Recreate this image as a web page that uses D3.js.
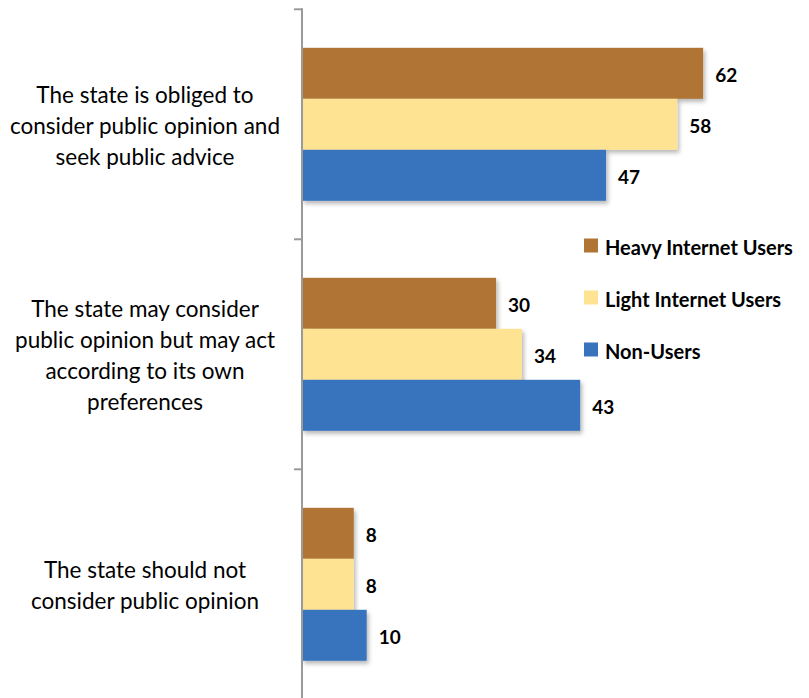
<!DOCTYPE html>
<html>
<head>
<meta charset="utf-8">
<script src="https://cdn.jsdelivr.net/npm/d3@7"></script>
<style>
  html, body { margin: 0; padding: 0; background: #fff; }
  svg { display: block; }
</style>
</head>
<body>
<div id="chart"></div>
<script>
// Attitudes toward the state and public opinion, by internet use (%)
const categories = [
  "The state is obliged to|consider public opinion and|seek public advice",
  "The state may consider|public opinion but may act|according to its own|preferences",
  "The state should not|consider public opinion"
];
const seriesNames = ["Heavy Internet Users", "Light Internet Users", "Non-Users"];
const heavyUsers = [62, 30, 8];
const lightUsers = [58, 34, 8];
const nonUsers = [47, 43, 10];
const seriesValues = [heavyUsers, lightUsers, nonUsers];
const seriesColors = ["#B07534", "#FEE492", "#3873BE"];

const W = 809, H = 698;
const axisX = 302;
const FONT = "Lato, 'Open Sans', sans-serif";

const svg = d3.select("#chart").append("svg")
  .attr("width", W).attr("height", H);

// soft drop shadow under each bar
const defs = svg.append("defs");
const f = defs.append("filter").attr("id", "shadow")
  .attr("x", "-5%").attr("y", "-10%").attr("width", "115%").attr("height", "140%");
f.append("feDropShadow").attr("dx", 2).attr("dy", 3)
  .attr("stdDeviation", 2).attr("flood-color", "#000").attr("flood-opacity", 0.28);

const x = d3.scaleLinear().domain([0, 70]).range([axisX, axisX + 70 * 6.47]);

const y = d3.scaleBand().domain(d3.range(categories.length))
  .range([9.3, 9.3 + 3 * 230]);

// three bars fill ~153px of each 230px band
const inner = d3.scaleBand().domain(d3.range(seriesNames.length))
  .range([0, y.bandwidth()]).paddingInner(0)
  .paddingOuter((y.bandwidth() - 153) / 2 / (153 / 3));

const rows = [];
categories.forEach((c, i) => {
  seriesValues.forEach((vals, s) => rows.push({ cat: i, s, v: vals[i] }));
});

// bars
svg.append("g").selectAll("rect").data(rows).join("rect")
  .attr("x", x(0))
  .attr("y", d => y(d.cat) + inner(d.s))
  .attr("width", d => x(d.v) - x(0))
  .attr("height", inner.bandwidth())
  .attr("fill", d => seriesColors[d.s])
  .attr("filter", "url(#shadow)");

// value labels
svg.append("g").selectAll("text").data(rows).join("text")
  .attr("x", d => x(d.v) + 12)
  .attr("y", d => y(d.cat) + inner(d.s) + inner.bandwidth() / 2 + 1)
  .attr("dominant-baseline", "central")
  .attr("font-family", FONT)
  .attr("font-weight", "bold")
  .attr("font-size", 19)
  .attr("fill", "#000")
  .text(d => d.v);

// category axis with ticks at band boundaries
const axisG = svg.append("g");
axisG.append("line")
  .attr("x1", axisX).attr("x2", axisX)
  .attr("y1", y.range()[0] - 1).attr("y2", H)
  .attr("stroke", "#9a9a9a").attr("stroke-width", 2);
const tickYs = d3.range(categories.length + 1).map(i => y.range()[0] + i * y.step());
axisG.selectAll("line.tick").data(tickYs).join("line")
  .attr("class", "tick")
  .attr("x1", axisX - 8).attr("x2", axisX)
  .attr("y1", d => d).attr("y2", d => d)
  .attr("stroke", "#9a9a9a").attr("stroke-width", 2);

// category labels
const lineH = 31;
const catG = svg.append("g").selectAll("text").data(categories).join("text")
  .attr("text-anchor", "middle")
  .attr("font-family", FONT)
  .attr("font-size", 22.5)
  .attr("fill", "#000");
catG.each(function(c, i) {
  const lines = c.split("|");
  const cy = y(i) + y.bandwidth() / 2 + 1;
  d3.select(this).selectAll("tspan").data(lines).join("tspan")
    .attr("x", 145)
    .attr("y", (d, k) => cy + (k - (lines.length - 1) / 2) * lineH)
    .attr("dominant-baseline", "central")
    .text(d => d);
});

// legend
const leg = svg.append("g").selectAll("g").data(seriesNames).join("g")
  .attr("transform", (d, i) => `translate(584, ${245.5 + i * 52})`);
leg.append("rect")
  .attr("x", 0).attr("y", -7).attr("width", 14).attr("height", 14)
  .attr("fill", (d, i) => seriesColors[i]);
leg.append("text")
  .attr("x", 21).attr("y", 1)
  .attr("dominant-baseline", "central")
  .attr("font-family", FONT)
  .attr("font-weight", "bold")
  .attr("font-size", 20)
  .attr("fill", "#000")
  .text(d => d);
</script>
</body>
</html>
